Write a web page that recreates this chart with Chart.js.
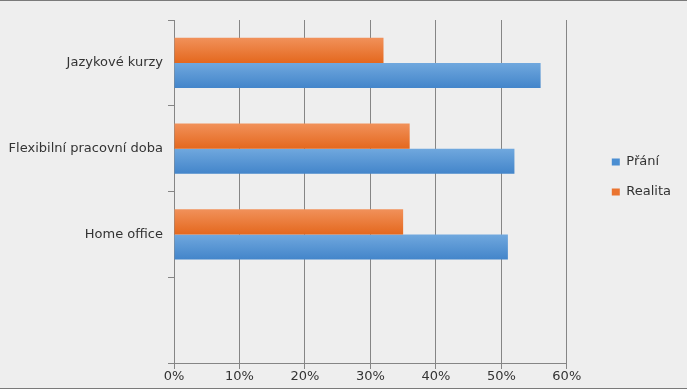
<!DOCTYPE html>
<html>
<head>
<meta charset="utf-8">
<script src="https://cdn.jsdelivr.net/npm/chart.js@4/dist/chart.umd.min.js"></script>
<style>
    html, body { margin: 0; padding: 0; background: #eeeeee; }
    #wrap { position: relative; width: 687px; height: 389px; }
    #wrap::before, #wrap::after { content: ''; position: absolute; left: 0; right: 0; height: 1px; background: #7a7a7a; }
    #wrap::before { top: 0; }
    #wrap::after { bottom: 0; }
</style>
</head>
<body>
<div id="wrap"><canvas id="chart" width="687" height="389"></canvas></div>
<script>
(() => {
    const categories = ['Jazykové kurzy', 'Flexibilní pracovní doba', 'Home office', ''];
    const realita = [32, 36, 35, null];
    const prani = [56, 52, 51, null];
    const xTicks = [0, 10, 20, 30, 40, 50, 60];

    const catPct = 0.585;
    const font = { family: 'DejaVu Sans', size: 13 };

    // vertical gradient per bar, worked out from the category scale
    const gradient = (top, bottom) => c => {
        const { chart, dataIndex, datasetIndex } = c;
        const y = chart.scales.y;
        if (!y || !y.height) return bottom;
        const band = y.height / categories.length;
        const size = band * catPct / 2;
        const start = y.getPixelForValue(dataIndex) - size + datasetIndex * size;
        const g = chart.ctx.createLinearGradient(0, start, 0, start + size);
        g.addColorStop(0, top);
        g.addColorStop(1, bottom);
        return g;
    };

    const ctx = document.getElementById('chart').getContext('2d');
    new Chart(ctx, {
        type: 'bar',
        data: {
            labels: categories,
            datasets: [
                {
                    label: 'Realita',
                    data: realita,
                    backgroundColor: gradient('#f1915a', '#e4681e'),
                    legendColor: '#ea7430'
                },
                {
                    label: 'Přání',
                    data: prani,
                    backgroundColor: gradient('#70a8de', '#4385ca'),
                    legendColor: '#4b8ed2'
                }
            ]
        },
        options: {
            indexAxis: 'y',
            responsive: false,
            animation: false,
            events: [],
            categoryPercentage: catPct,
            barPercentage: 1,
            layout: { padding: { top: 20, right: 6, left: 0, bottom: 0 } },
            scales: {
                x: {
                    min: 0,
                    max: 60,
                    afterBuildTicks: s => { s.ticks = xTicks.map(v => ({ value: v })); },
                    afterFit: s => { s.height = 26; },
                    ticks: { color: '#333', font, padding: 0, callback: v => v + '%' },
                    grid: { color: '#858585', tickLength: 6, lineWidth: 1 },
                    border: { color: '#858585' }
                },
                y: {
                    afterFit: s => { s.width = 174; },
                    ticks: { color: '#333', font, padding: 5 },
                    grid: { drawOnChartArea: false, color: '#858585', tickLength: 6, offset: true },
                    border: { color: '#858585' }
                },
                gap: {
                    type: 'category',
                    labels: categories,
                    position: 'right',
                    axis: 'y',
                    afterFit: s => { s.width = 28; },
                    ticks: { display: false },
                    grid: { display: false },
                    border: { display: false }
                }
            },
            plugins: {
                tooltip: { enabled: false },
                legend: {
                    position: 'right',
                    align: 'start',
                    reverse: true,
                    title: { display: true, text: '', font, padding: { top: 103, bottom: 0 } },
                    labels: {
                        color: '#333',
                        font,
                        boxWidth: 8,
                        boxHeight: 7,
                        padding: 17,
                        generateLabels: chart => chart.data.datasets.map((d, i) => ({
                            text: d.label,
                            fillStyle: d.legendColor,
                            strokeStyle: d.legendColor,
                            lineWidth: 0,
                            datasetIndex: i,
                            fontColor: '#333'
                        }))
                    }
                }
            }
        }
    });
})();
</script>
</body>
</html>
